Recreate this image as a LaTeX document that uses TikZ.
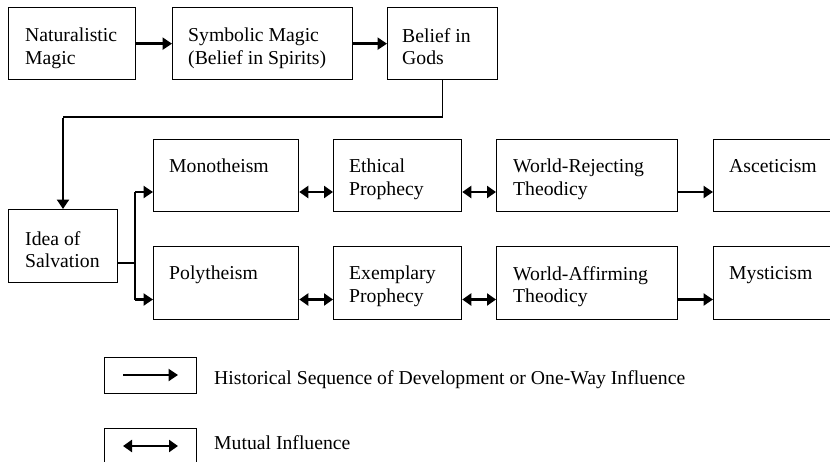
\documentclass[tikz,border=0pt]{standalone}
\usepackage{fontspec}
\setmainfont{Liberation Serif}
\usetikzlibrary{arrows.meta}
\begin{document}
\begin{tikzpicture}[x=1pt,y=-1pt,
  box/.style={draw, line width=1.3pt, inner sep=0pt, anchor=north west},
  lbl/.style={font=\fontsize{19.7}{22.7}\selectfont, inner sep=0pt, anchor=north west, align=left},
  legtext/.style={font=\fontsize{19.7}{22.7}\selectfont, inner sep=0pt, anchor=base west},
  route/.style={line width=1.3pt},
  onearrow/.style={line width=2.8pt, -{Triangle[length=9.5pt,width=12pt]}},
  twoarrow/.style={line width=2.8pt, {Triangle[length=9pt,width=12pt]}-{Triangle[length=9pt,width=12pt]}}]
\useasboundingbox (0,0) rectangle (830,461);
\clip (0,0) rectangle (830,461);

% boxes
\node[box, minimum width=127pt, minimum height=72pt] (nat) at (8,7) {};
\node[box, minimum width=180pt, minimum height=72pt] (sym) at (172,7) {};
\node[box, minimum width=110pt, minimum height=72pt] (bel) at (387,7) {};
\node[box, minimum width=109pt, minimum height=73pt] (idea) at (8,209) {};
\node[box, minimum width=145pt, minimum height=72pt] (mono) at (153,139) {};
\node[box, minimum width=128pt, minimum height=72pt] (eth) at (333,139) {};
\node[box, minimum width=181pt, minimum height=72pt] (wr) at (496,139) {};
\node[box, minimum width=140pt, minimum height=72pt] (asc) at (713,139) {};
\node[box, minimum width=145pt, minimum height=73pt] (poly) at (153,246) {};
\node[box, minimum width=128pt, minimum height=73pt] (exe) at (333,246) {};
\node[box, minimum width=181pt, minimum height=73pt] (wa) at (496,246) {};
\node[box, minimum width=140pt, minimum height=73pt] (mys) at (713,246) {};
\node[box, minimum width=92pt, minimum height=36pt] (leg1) at (104,357) {};
\node[box, minimum width=92pt, minimum height=50pt] (leg2) at (104,428) {};

% labels
\node[lbl] (natl) at ([shift={(17,21)}]nat.north west) {Naturalistic\\Magic};
\node[lbl] (syml) at ([shift={(16,21)}]sym.north west) {Symbolic Magic\\(Belief in Spirits)};
\node[lbl] (bell) at ([shift={(15,21)}]bel.north west) {Belief in\\Gods};
\node[lbl] (ideal) at ([shift={(17,22)}]idea.north west) {Idea of\\Salvation};
\node[lbl] (monol) at ([shift={(16,20)}]mono.north west) {Monotheism};
\node[lbl] (ethl) at ([shift={(16,20)}]eth.north west) {Ethical\\Prophecy};
\node[lbl] (wrl) at ([shift={(17,20)}]wr.north west) {World-Rejecting\\Theodicy};
\node[lbl] (ascl) at ([shift={(16,20)}]asc.north west) {Asceticism};
\node[lbl] (polyl) at ([shift={(16,20)}]poly.north west) {Polytheism};
\node[lbl] (exel) at ([shift={(16,20)}]exe.north west) {Exemplary\\Prophecy};
\node[lbl] (wal) at ([shift={(17,20)}]wa.north west) {World-Affirming\\Theodicy};
\node[lbl] (mysl) at ([shift={(16,20)}]mys.north west) {Mysticism};

% coordinates
\coordinate (c1) at (442,117);
\coordinate (c2) at (63,117);
\coordinate (j) at (135,263);
\coordinate (jt) at (135,192);
\coordinate (jb) at (135,299.5);

% top row arrows
\draw[onearrow] (nat.east) -- (sym.west);
\draw[onearrow] (sym.east) -- (bel.west);
\draw[route] (bel.south) -- (bel.south |- c1) -- (c2);
\draw[onearrow] ([yshift=-0.65]c2) -- (c2 |- idea.north);

% branch
\draw[route] (idea.east |- j) -- (j);
\draw[route] (jt) -- (jb);
\draw[onearrow] (jt) -- (mono.west |- jt);
\draw[onearrow] (jb) -- (poly.west |- jb);

% row arrows
\draw[twoarrow] (mono.east |- jt) -- (eth.west |- jt);
\draw[twoarrow] (eth.east |- jt) -- (wr.west |- jt);
\draw[onearrow] (wr.east |- jt) -- (asc.west |- jt);
\draw[twoarrow] (poly.east |- jb) -- (exe.west |- jb);
\draw[twoarrow] (exe.east |- jb) -- (wa.west |- jb);
\draw[onearrow] (wa.east |- jb) -- (mys.west |- jb);

% legend
\coordinate (la1) at (123,375);
\coordinate (la2) at (178,375);
\coordinate (lb1) at (123,446);
\coordinate (lb2) at (178,446);
\draw[onearrow] (la1) -- (la2);
\draw[twoarrow] (lb1) -- (lb2);
\node[legtext] (t1) at (214,384) {Historical Sequence of Development or One-Way Influence};
\node[legtext] (t2) at (214,449.5) {Mutual Influence};
\end{tikzpicture}
\end{document}
